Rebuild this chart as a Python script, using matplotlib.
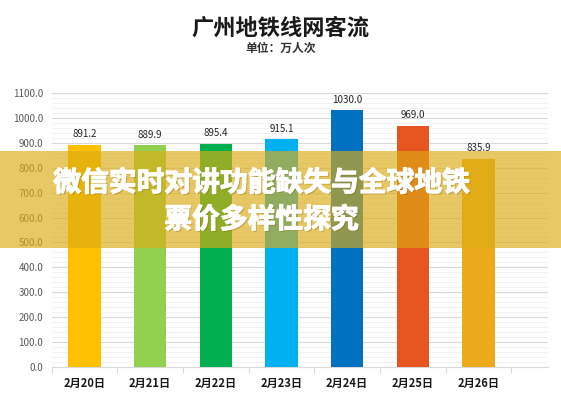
import matplotlib

matplotlib.use("Agg")
import matplotlib.pyplot as plt
import matplotlib.patheffects as pe
from matplotlib.patches import Rectangle
from matplotlib.ticker import MultipleLocator

plt.rcParams["font.family"] = ["Noto Sans CJK SC", "DejaVu Sans"]

# data
dates = ["2月20日", "2月21日", "2月22日", "2月23日", "2月24日", "2月25日", "2月26日"]
ridership = [891.2, 889.9, 895.4, 915.1, 1030.0, 969.0, 835.9]
bar_colors = ["#FFC000", "#92D050", "#00B050", "#00B0F0", "#0070C0", "#E65420", "#EBAB1A"]

title = "广州地铁线网客流"
subtitle = "单位：万人次"
banner = "微信实时对讲功能缺失与全球地铁\n票价多样性探究"

fig = plt.figure(figsize=(5.61, 4.0), dpi=100)
fig.patch.set_facecolor("white")
ax = fig.add_axes([0.092, 0.0825, 0.885, 0.685])

x = range(len(dates))
ax.bar(list(x), ridership, width=0.49, color=bar_colors, zorder=3)
for i, v in enumerate(ridership):
    ax.annotate(f"{v:.1f}", (i, v), xytext=(0, 4), textcoords="offset points",
                ha="center", va="bottom", fontsize=7, color="#262626")

ax.set_ylim(0, 1100)
ax.set_xlim(-0.5, 7.06)
ax.yaxis.set_major_locator(MultipleLocator(100))
ax.yaxis.set_minor_locator(MultipleLocator(20))
ax.set_yticklabels([f"{t:.1f}" for t in ax.get_yticks()])
ax.tick_params(axis="y", which="both", length=0, labelsize=7, labelcolor="#595959", pad=6)
ax.grid(True, axis="y", which="major", color="#D9D9D9", linewidth=0.8, zorder=0)
ax.grid(True, axis="y", which="minor", color="#F0F0F0", linewidth=0.6, zorder=0)
ax.set_axisbelow(True)

# category labels between boundary ticks, Excel style
ax.set_xticks([i - 0.5 for i in range(len(dates) + 1)])
ax.set_xticklabels([])
ax.set_xticks(list(x), minor=True)
ax.set_xticklabels(dates, minor=True, fontsize=8, fontweight="bold", color="#1a1a1a")
ax.tick_params(axis="x", which="major", length=4, color="#D9D9D9")
ax.tick_params(axis="x", which="minor", length=0, pad=7)

for s in ("top", "right", "left"):
    ax.spines[s].set_visible(False)
ax.spines["bottom"].set_color("#D9D9D9")

fig.text(0.5, 0.93, title, ha="center", va="center", fontsize=16,
         fontweight="black", color="#1a1a1a")
fig.text(0.5, 0.88, subtitle, ha="center", va="center", fontsize=8.5,
         fontweight="bold", color="#333333")

# translucent banner across the middle
fig.patches.append(Rectangle((0, 0.38), 1, 0.242, transform=fig.transFigure,
                             facecolor="#DCAC14", alpha=0.66, edgecolor="none", zorder=5))
fig.text(0.466, 0.496, banner, ha="center", va="center", fontsize=20,
         fontweight="black", color="white", linespacing=1.4, zorder=6,
         path_effects=[pe.withSimplePatchShadow(offset=(1, -1), shadow_rgbFace="#7a5a00", alpha=0.35),
                       pe.withStroke(linewidth=0.8, foreground="white")])

fig.savefig("out.png", dpi=100, facecolor="white")
